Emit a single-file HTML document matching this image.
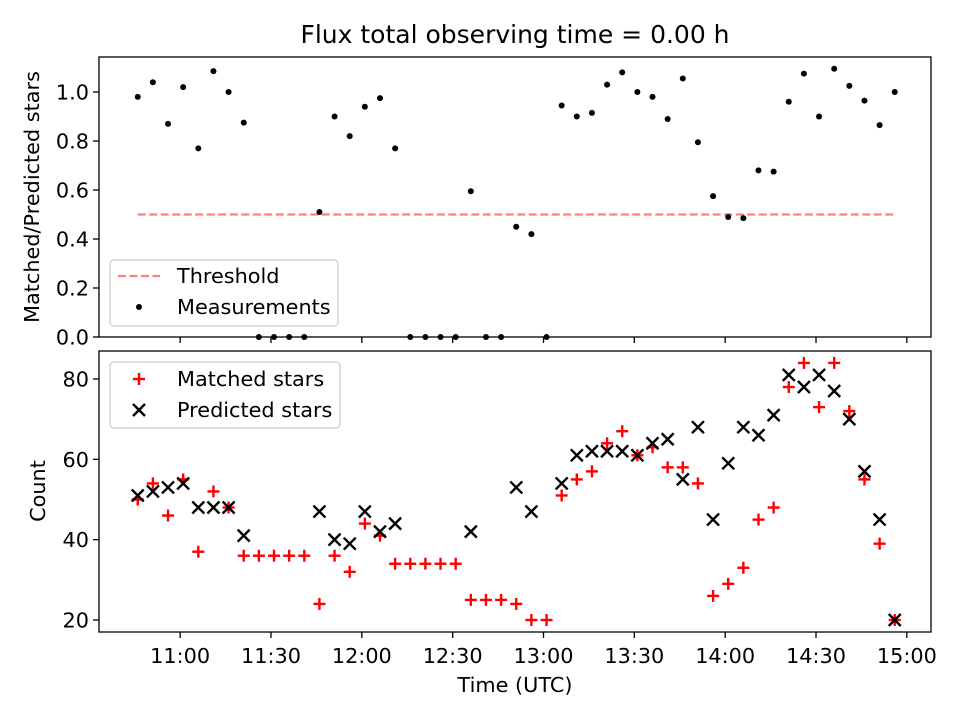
<!DOCTYPE html>
<html><head><meta charset="utf-8"><style>
body{margin:0;background:#fff;}
svg{display:block;font-family:"DejaVu Sans","Liberation Sans",sans-serif;}
</style></head><body>
<svg id="chart" width="960" height="720"></svg>
<script>
const minutesFrom1030 = [16,21,26,31,36,41,46,51,56,61,66,71,76,81,86,91,96,101,106,111,116,121,126,131,136,141,146,151,156,161,166,171,176,181,186,191,196,201,206,211,216,221,226,231,236,241,246,251,256,261,266];
const ratioValues = [0.98,1.04,0.87,1.02,0.77,1.085,1.0,0.875,0,0,0,0,0.51,0.90,0.82,0.94,0.975,0.77,0,0,0,0,0.595,0,0,0.45,0.42,0,0.945,0.90,0.915,1.03,1.08,1.0,0.98,0.89,1.055,0.795,0.575,0.49,0.485,0.68,0.675,0.96,1.075,0.90,1.095,1.025,0.965,0.865,1.0];
const matchedValues = [50,54,46,55,37,52,48,36,36,36,36,36,24,36,32,44,41,34,34,34,34,34,25,25,25,24,20,20,51,55,57,64,67,61,63,58,58,54,26,29,33,45,48,78,84,73,84,72,55,39,20];
const predictedValues = [51,52,53,54,48,48,48,41,null,null,null,null,47,40,39,47,42,44,null,null,null,null,42,null,null,53,47,null,54,61,62,62,62,61,64,65,55,68,45,59,68,66,71,81,78,81,77,70,57,45,20];
const threshold = 0.5;
const xTickLabels = ["11:00","11:30","12:00","12:30","13:00","13:30","14:00","14:30","15:00"];
const xTickMinutes = [30,60,90,120,150,180,210,240,270];
const topTicks = [0,0.2,0.4,0.6,0.8,1.0];
const botTicks = [20,40,60,80];

const NS="http://www.w3.org/2000/svg";
const svg=document.getElementById('chart');
function el(tag,attrs,parent){const e=document.createElementNS(NS,tag);for(const k in attrs)e.setAttribute(k,attrs[k]);(parent||svg).appendChild(e);return e;}
const L=99,R=931;
const FS=20.8;
const xs=m=>89.3+m*3.028;
const yTop=v=>337-v*245;
const yBot=v=>620-(v-20)*4.017;

const topAx=el('rect',{x:L,y:57,width:R-L,height:280,fill:'none',stroke:'#000','stroke-width':1.3});


const botAx=el('rect',{x:L,y:351,width:R-L,height:281,fill:'none',stroke:'#000','stroke-width':1.3});



function text(x,y,s,anchor,size,name){const t=el('text',{x:x,y:y,'text-anchor':anchor,'font-size':size,fill:'#000'});t.textContent=s;


return t;}

text(515,43,'Flux total observing time = 0.00 h','middle',25,'chart-title');

topTicks.forEach(v=>{const y=yTop(v);el('line',{x1:L-6,x2:L,y1:y,y2:y,stroke:'#000','stroke-width':1.3});text(L-10,y+7.5,v.toFixed(1),'end',FS,'top-y-tick-label');});
botTicks.forEach(v=>{const y=yBot(v);el('line',{x1:L-6,x2:L,y1:y,y2:y,stroke:'#000','stroke-width':1.3});text(L-10,y+7.5,String(v),'end',FS,'bottom-y-tick-label');});
xTickMinutes.forEach((m,i)=>{const x=xs(m);el('line',{x1:x,x2:x,y1:337,y2:343,stroke:'#000','stroke-width':1.3});el('line',{x1:x,x2:x,y1:632,y2:638,stroke:'#000','stroke-width':1.3});text(x,663,xTickLabels[i],'middle',FS,'x-tick-label');});

const yl1=text(0,0,'Matched/Predicted stars','middle',FS,'top-y-axis-title');yl1.setAttribute('transform','translate(39,197) rotate(-90)');
const yl2=text(0,0,'Count','middle',FS,'bottom-y-axis-title');yl2.setAttribute('transform','translate(45,491) rotate(-90)');
text(515,692,'Time (UTC)','middle',FS,'x-axis-title');

const th=el('line',{x1:xs(minutesFrom1030[0]),x2:xs(minutesFrom1030[minutesFrom1030.length-1]),y1:yTop(threshold),y2:yTop(threshold),stroke:'#ff7f7f','stroke-width':2.2,'stroke-dasharray':'8,3.5'});



ratioValues.forEach((v,i)=>{const c=el('circle',{cx:xs(minutesFrom1030[i]),cy:yTop(v),r:3,fill:'#000'});

});

function plus(x,y,color){const g=el('g',{stroke:color,'stroke-width':2.4});el('line',{x1:x-6,x2:x+6,y1:y,y2:y},g);el('line',{x1:x,x2:x,y1:y-6,y2:y+6},g);return g;}
function cross(x,y,color){const g=el('g',{stroke:color,'stroke-width':2.4});el('line',{x1:x-6,x2:x+6,y1:y-6,y2:y+6},g);el('line',{x1:x-6,x2:x+6,y1:y+6,y2:y-6},g);return g;}
matchedValues.forEach((v,i)=>{if(v==null)return;const g=plus(xs(minutesFrom1030[i]),yBot(v),'#f00');

});
predictedValues.forEach((v,i)=>{if(v==null)return;const g=cross(xs(minutesFrom1030[i]),yBot(v),'#000');

});

const lg1=el('rect',{x:110,y:260,width:228,height:66,rx:4,fill:'#fff','fill-opacity':0.8,stroke:'#ccc','stroke-width':1.3});


el('line',{x1:118,x2:160,y1:276,y2:276,stroke:'#ff7f7f','stroke-width':2.2,'stroke-dasharray':'8,3.5'});
text(177,283,'Threshold','start',FS,'legend-threshold');
el('circle',{cx:139,cy:307,r:3,fill:'#000'});
text(177,314,'Measurements','start',FS,'legend-measurements');

const lg2=el('rect',{x:110,y:362,width:230,height:66,rx:4,fill:'#fff','fill-opacity':0.8,stroke:'#ccc','stroke-width':1.3});


plus(139,379,'#f00');
text(177,386,'Matched stars','start',FS,'legend-matched');
cross(139,410,'#000');
text(177,417,'Predicted stars','start',FS,'legend-predicted');
</script>
</body></html>
